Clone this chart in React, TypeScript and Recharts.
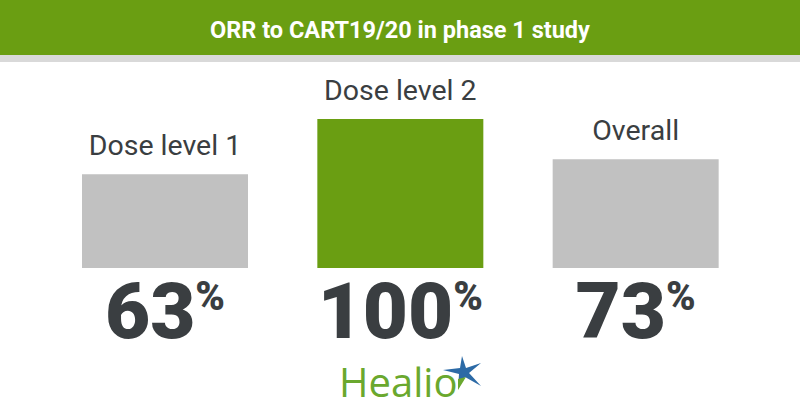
import React from 'react';
import { BarChart, Bar, XAxis, YAxis, Cell, LabelList } from 'recharts';

const categories = ['Dose level 1', 'Dose level 2', 'Overall'];
const orrValues = [63, 100, 73];
const barColors = ['#c1c1c1', '#6a9e12', '#c1c1c1'];

const data = categories.map((name, i) => ({ name, orr: orrValues[i] }));

const TEXT_DARK = '#3a3e41';
const GREEN = '#6a9e12';

// category name sitting above each bar
const NameLabel = (props: any) => {
  const { x, y, width, index } = props;
  return (
    <text
      x={x + width / 2}
      y={y - 19}
      textAnchor="middle"
      fontFamily="Roboto, sans-serif"
      fontSize={28.5}
      fill={TEXT_DARK}
    >
      {categories[index]}
    </text>
  );
};

// big percentage under the baseline
const PctLabel = (props: any) => {
  const { x, y, width, height, value } = props;
  const base = y + height + 70;
  return (
    <text
      x={x + width / 2}
      y={base}
      textAnchor="middle"
      fontFamily="Roboto, sans-serif"
      fontWeight={900}
      fill={TEXT_DARK}
    >
      <tspan fontSize={78}>{value}</tspan>
      <tspan fontSize={40} dy={-28}>%</tspan>
    </text>
  );
};

function HealioLogo() {
  return (
    <svg width={800} height={60} style={{ position: 'absolute', left: 0, top: 352 }}>
      <text x={339} y={45} fontFamily="'Open Sans', sans-serif" fontSize={40} fill="#6aa82e">
        Healio
      </text>
      <polygon
        points="462,4 466,16 481,11 469,21 481,34 465,25 458,37 459,22 443,18 460,16"
        fill="#2c6aa6"
      />
      <polygon points="458,27 466,25 458,38" fill="#6aa82e" />
    </svg>
  );
}

export default function App() {
  return (
    <div
      style={{
        position: 'absolute',
        left: 0,
        top: 0,
        width: 800,
        height: 420,
        background: '#ffffff',
        overflow: 'hidden',
      }}
    >
      <div
        style={{
          position: 'absolute',
          left: 0,
          top: 0,
          width: 800,
          height: 55,
          background: GREEN,
          color: '#ffffff',
          fontFamily: 'Roboto, sans-serif',
          fontWeight: 700,
          fontSize: 23.5,
          textAlign: 'center',
          lineHeight: '60px',
        }}
      >
        ORR to CART19/20 in phase 1 study
      </div>
      <div
        style={{ position: 'absolute', left: 0, top: 55, width: 800, height: 7, background: '#d9d9d9' }}
      />
      <div style={{ position: 'absolute', left: 0, top: 0 }}>
        <BarChart
          width={800}
          height={420}
          data={data}
          margin={{ top: 119, right: 47, bottom: 152, left: 47 }}
        >
          <XAxis
            dataKey="name"
            height={0}
            tick={false}
            tickLine={false}
            axisLine={{ stroke: '#4a4a4a', strokeWidth: 1.5 }}
          />
          <YAxis hide domain={[0, 100]} />
          <Bar dataKey="orr" barSize={166} isAnimationActive={false}>
            {data.map((d, i) => (
              <Cell key={d.name} fill={barColors[i]} />
            ))}
            <LabelList dataKey="orr" content={<NameLabel />} />
            <LabelList dataKey="orr" content={<PctLabel />} />
          </Bar>
        </BarChart>
      </div>
      <HealioLogo />
    </div>
  );
}
